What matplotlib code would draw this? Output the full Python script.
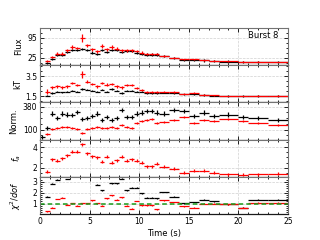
import matplotlib.pyplot as plt
import numpy as np
from matplotlib.ticker import AutoMinorLocator, MultipleLocator

nan = np.nan

# time bins (fa model, red); the blackbody fit (black) has one extra bin at 0.25 s
t_fa = [0.75, 1.25, 1.75, 2.25, 2.75, 3.25, 3.75, 4.25, 4.75, 5.25, 5.75, 6.25,
        6.75, 7.25, 7.75, 8.25, 8.75, 9.25, 9.75, 10.25, 10.75, 11.25, 11.75,
        12.5, 13.5, 14.5, 15.5, 16.5, 17.5, 19.0, 20.5, 22.0, 24.0]
dt_fa = [0.25] * 23 + [0.5, 0.5, 0.5, 0.5, 0.5, 0.5, 1.0, 0.5, 1.0, 1.0]
t_bb = [0.25] + t_fa
dt_bb = [0.25] + dt_fa

flux_bb = [0, 7, 21, 36, 36, 45, 51, 51, 55, 52, 43, 39, 51, 45, 51, 51, 45, 48, 48,
           43, 39, 36, 36, 36, 31, 24, 18, 18, 15, 13, 11, 10, 10, 9]
flux_fa = [12, 27, 39, 39, 51, 63, 59, 95, 69, 55, 48, 66, 55, 63, 57, 51, 51, 51, 48,
           43, 39, 38, 37, 32, 25, 19, 19, 16, 14, 11.5, 10.5, 10.5, 9.5]
flux_fa_err = [4, 4, 5, 5, 6, 6, 5, 15, 6, 5, 5, 6, 5, 6, 5, 5, 5, 5, 4, 4, 4, 4, 4,
               3, 2.5, 2, 2, 2, 1.5, 1.5, 1.5, 1.5, 1.5]

kt_bb = [nan, 1.54, 1.8, 1.94, 1.87, 1.94, 2.04, 1.94, 2.2, 2.14, 2.04, 1.94, 2.14,
         1.94, 2.2, 2.04, 1.8, 2.04, 2.04, 1.94, 1.94, 1.8, 1.8, 1.8,
         1.85, 1.8, 1.68, 1.72, 1.6, 1.55, 1.5, 1.5, 1.5, 1.52]
kt_fa = [1.94, 2.37, 2.47, 2.37, 2.47, 2.8, 2.6, 3.7, 2.94, 2.7, 2.47, 2.8, 2.64, 2.7,
         2.47, 2.37, 2.6, 2.6, 2.3, 2.14, 1.94, 1.94, 1.94,
         1.95, 1.9, 1.75, 1.85, 1.65, 1.6, 1.52, 1.52, 1.55, 1.55]
kt_fa_err = [0.25, 0.12, 0.12, 0.12, 0.12, 0.14, 0.12, 0.35, 0.14, 0.12, 0.12, 0.14,
             0.12, 0.12, 0.12, 0.12, 0.12, 0.12, 0.1, 0.1, 0.1, 0.1, 0.1,
             0.07, 0.07, 0.06, 0.06, 0.06, 0.05, 0.04, 0.04, 0.04, 0.04]

norm_bb = [11, 121, 295, 243, 295, 283, 275, 316, 226, 243, 267, 295, 213, 255, 213,
           243, 336, 255, 255, 295, 307, 323, 323, 307,
           295, 336, 323, 267, 307, 267, 283, 255, 243, 213]
norm_fa = [51, 104, 121, 133, 133, 121, 104, 63, 104, 121, 133, 121, 121, 133, 121,
           153, 133, 121, 185, 201, 213, 234, 185,
           194, 213, 255, 185, 213, 201, 234, 201, 185, 153]

fa = [1.6, 2.8, 2.67, 2.9, 3.24, 3.57, 3.57, 4.33, 3.4, 3.14, 3.0, 2.57, 3.07, 2.47,
      2.74, 3.07, 2.67, 2.8, 2.67, 2.47, 2.14, 2.14, 2.4,
      2.07, 1.9, 1.5, 1.67, 1.67, 1.5, 1.33, 1.3, 1.33, 1.4]

chi_bb = [nan, 1.62, 2.81, 3.2, 4.0, 3.26, 4.0, 4.0, 4.0, 4.0, 4.0, 2.75, 2.21, 4.0,
          2.87, 2.87, 3.29, 2.21, 2.46, 2.46, 1.95, 1.56, 1.56, 1.5,
          2.07, 1.65, 1.05, 1.15, 1.38, 1.23, 0.94, 0.64, 1.36, 1.36]
chi_fa = [0.32, 0.62, 1.43, 1.54, 0.92, 1.04, 0.8, 1.04, 1.05, 1.31, 1.03, 0.8, 1.5,
          1.75, 1.38, 1.6, 0.82, 0.56, 1.25, 0.84, 0.84, 0.84, 0.5,
          1.3, 1.15, 0.76, 0.64, 1.0, 1.0, 0.94, 0.64, 1.09, 1.09]

plt.rcParams['font.size'] = 5.5

fig, axes = plt.subplots(5, 1, sharex=True, figsize=(3.2, 2.4), dpi=100)
fig.subplots_adjust(left=0.125, right=0.9, top=0.883, bottom=0.108, hspace=0)

eb = dict(fmt='none', elinewidth=0.9, capsize=0)

ax = axes[0]
ax.errorbar(t_bb, flux_bb, xerr=dt_bb, yerr=4, ecolor='black', **eb)
ax.errorbar(t_fa, flux_fa, xerr=dt_fa, yerr=flux_fa_err, ecolor='red', **eb)
ax.set_ylim(-2, 130)
ax.set_yticks([25, 95])
ax.set_ylabel('Flux')
ax.text(0.96, 0.8, 'Burst 8', transform=ax.transAxes, ha='right', va='center', fontsize=6)

ax = axes[1]
ax.errorbar(t_bb, kt_bb, xerr=dt_bb, yerr=0.07, ecolor='black', **eb)
ax.errorbar(t_fa, kt_fa, xerr=dt_fa, yerr=kt_fa_err, ecolor='red', **eb)
ax.set_ylim(0.87, 4.57)
ax.set_yticks([1.5, 3.5])
ax.set_ylabel('kT')

ax = axes[2]
ax.errorbar(t_bb, norm_bb, xerr=dt_bb, yerr=25, ecolor='black', **eb)
ax.errorbar(t_fa, norm_fa, xerr=dt_fa, yerr=12, ecolor='red', **eb)
ax.set_ylim(-22, 429)
ax.set_yticks([100, 380])
ax.set_ylabel('Norm.')

ax = axes[3]
ax.errorbar(t_fa, fa, xerr=dt_fa, yerr=0.15, ecolor='red', **eb)
ax.set_ylim(1.07, 4.77)
ax.set_yticks([2, 4])
ax.set_ylabel('$f_a$')

ax = axes[4]
ax.errorbar(t_bb, chi_bb, xerr=dt_bb, yerr=0.04, ecolor='black', **eb)
ax.errorbar(t_fa, chi_fa, xerr=dt_fa, yerr=0.04, ecolor='red', **eb)
ax.axhline(1, color='#1a9a1a', ls='--', lw=1.1, dashes=(3, 2))
ax.set_ylim(0.05, 3.45)
ax.set_yticks([1, 2, 3])
ax.set_ylabel(r'$\chi^2/dof$')
ax.set_xlim(0, 25)
ax.set_xticks([0, 5, 10, 15, 20, 25])
ax.set_xlabel('Time (s)', fontsize=6, labelpad=2)

for ax in axes:
    ax.xaxis.set_minor_locator(MultipleLocator(1))
    ax.yaxis.set_minor_locator(AutoMinorLocator())
    ax.tick_params(which='both', direction='in', top=True, right=True, width=0.6, pad=2)
    ax.tick_params(which='major', length=3)
    ax.tick_params(which='minor', length=1.5)
    ax.grid(True, which='major', ls='--', lw=0.5, color='0.82')
    ax.set_axisbelow(True)
    for side in ['left', 'right', 'top']:
        ax.spines[side].set_color('0.45')
        ax.spines[side].set_linewidth(0.8)
    ax.spines['bottom'].set_color('0.1')
    ax.spines['bottom'].set_linewidth(0.9)
    ax.yaxis.label.set_fontsize(6)
    ax.yaxis.set_label_coords(-0.07, 0.5)
axes[2].yaxis.set_label_coords(-0.09, 0.5)

plt.savefig('out.png', dpi=100)
